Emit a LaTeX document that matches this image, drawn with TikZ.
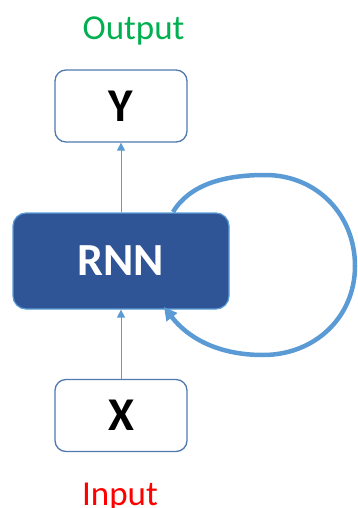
\documentclass[tikz,border=0pt]{standalone}
\usepackage{fontspec}
\setmainfont{Carlito}
\usetikzlibrary{arrows.meta}
\definecolor{boxline}{HTML}{5079B0}
\definecolor{rnnfill}{HTML}{2F5597}
\definecolor{lightblue}{HTML}{5B9BD5}
\definecolor{outgreen}{HTML}{00B050}
\definecolor{inred}{HTML}{FF0000}
\tikzset{
  iobox/.style={draw=boxline, line width=1.3pt, rounded corners=11pt, fill=white,
    minimum width=132pt, minimum height=72pt, inner sep=0pt,
    font=\fontsize{47}{50}\selectfont\bfseries},
  rnnbox/.style={draw=lightblue, line width=1.2pt, rounded corners=13pt, fill=rnnfill,
    minimum width=216pt, minimum height=96pt, inner sep=0pt, text=white,
    font=\fontsize{46}{50}\selectfont\bfseries},
  flow/.style={draw=lightblue, line width=1pt, -{Triangle[length=8pt,width=8pt]}},
  loop/.style={draw=lightblue, line width=4.5pt, -{Triangle[length=13pt,width=13pt]}},
  lbl/.style={anchor=base, inner sep=0pt, font=\fontsize{35}{38}\selectfont}
}
\begin{document}
\begin{tikzpicture}[x=1pt,y=-1pt]
\useasboundingbox (0,0) rectangle (358,508);
\node[iobox] (y) at (121,106) {Y};
\node[rnnbox] (rnn) at (121,261) {RNN};
\node[iobox] (x) at (121,415.5) {X};
\node[lbl, text=outgreen] (out) at (133.5,40) {Output};
\node[lbl, text=inred] (in) at (120,505.5) {Input};
\draw[flow] (rnn.north) -- (y.south);
\draw[flow] (x.north) -- (rnn.south);
\coordinate (ls) at (173,212);
\coordinate (le) at (164,307);
\draw[loop] (ls) .. controls (190,184) and (225,175) .. (265,175)
  .. controls (317,175) and (355,215) .. (355,266)
  .. controls (355,317) and (315,355) .. (263,355)
  .. controls (218,355) and (188,338) .. (le);
\end{tikzpicture}
\end{document}
